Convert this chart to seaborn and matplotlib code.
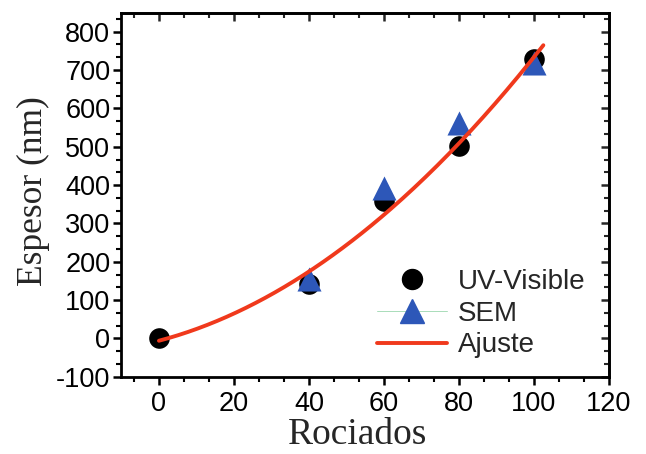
import numpy as np
import pandas as pd
import seaborn as sns
import matplotlib
matplotlib.use("Agg")
import matplotlib.pyplot as plt
from matplotlib.ticker import AutoMinorLocator
from matplotlib.lines import Line2D

# Measured film thickness versus number of spray passes
rociados_uv = [0, 40, 60, 80, 100]
espesor_uv = [0, 143, 358, 503, 730]
rociados_sem = [40, 60, 80, 100]
espesor_sem = [155, 393, 562, 718]

x_ticks = [0, 20, 40, 60, 80, 100, 120]
y_ticks = [-100, 0, 100, 200, 300, 400, 500, 600, 700, 800]

sns.set_theme(style="ticks")
plt.rcParams["font.family"] = ["Liberation Sans", "DejaVu Sans"]
plt.rcParams["axes.unicode_minus"] = False

df_uv = pd.DataFrame({"Rociados": rociados_uv, "Espesor": espesor_uv})
df_sem = pd.DataFrame({"Rociados": rociados_sem, "Espesor": espesor_sem})

# Second-order polynomial fit of the UV-Visible thickness series
coef = np.polyfit(np.array(rociados_uv, float), np.array(espesor_uv, float), 2)
x_fit = np.linspace(0, 102.5, 200)
df_fit = pd.DataFrame({"Rociados": x_fit, "Espesor": np.polyval(coef, x_fit)})

fig = plt.figure(figsize=(6.46, 4.54), dpi=100)
ax = fig.add_axes([0.188, 0.170, 0.7547, 0.8024])

blue = "#2D57B8"
red = "#F0391C"

sns.scatterplot(data=df_uv, x="Rociados", y="Espesor", ax=ax, marker="o",
                s=220, color="black", edgecolor="black", linewidth=0, zorder=3)
sns.scatterplot(data=df_sem, x="Rociados", y="Espesor", ax=ax, marker="^",
                s=300, color=blue, edgecolor=blue, linewidth=0, zorder=4)
sns.lineplot(data=df_fit, x="Rociados", y="Espesor", ax=ax, color=red,
             linewidth=2.8, zorder=5)

ax.set_xlim(-10, 120)
ax.set_ylim(-100, 850)
ax.set_xticks(x_ticks)
ax.set_yticks(y_ticks)
ax.xaxis.set_minor_locator(AutoMinorLocator(3))
ax.yaxis.set_minor_locator(AutoMinorLocator(3))

for s in ax.spines.values():
    s.set_linewidth(2.0)
    s.set_color("black")
    s.set_visible(True)

ax.tick_params(axis="both", which="major", length=6, width=1.8,
               labelsize=19.5, color="black", labelcolor="black", pad=2)
ax.tick_params(axis="x", which="major", pad=4)
ax.tick_params(axis="both", which="minor", length=3.5, width=1.5, color="black")
ax.tick_params(axis="x", which="both", direction="out", top=False)
ax.tick_params(axis="y", which="both", direction="out", right=False)

# Mirrored inward ticks on the top and right edges
ax_top = ax.secondary_xaxis("top")
ax_top.set_xticks(x_ticks)
ax_top.xaxis.set_minor_locator(AutoMinorLocator(3))
ax_top.tick_params(which="major", direction="in", length=6, width=1.8, labeltop=False)
ax_top.tick_params(which="minor", direction="in", length=3.5, width=1.5)
ax_top.spines["top"].set_linewidth(2.0)
ax_right = ax.secondary_yaxis("right")
ax_right.set_yticks(y_ticks)
ax_right.yaxis.set_minor_locator(AutoMinorLocator(3))
ax_right.tick_params(which="major", direction="in", length=6, width=1.8, labelright=False)
ax_right.tick_params(which="minor", direction="in", length=3.5, width=1.5)
ax_right.spines["right"].set_linewidth(2.0)

serif = ["Liberation Serif", "DejaVu Serif"]
ax.set_xlabel("Rociados", family=serif, fontsize=27)
ax.set_ylabel("Espesor (nm)", family=serif, fontsize=25.5)
ax.xaxis.set_label_coords(0.485, -0.113)
ax.yaxis.set_label_coords(-0.147, 0.51)

handles = [
    Line2D([], [], marker="o", color="black", linestyle="none", markersize=14.4),
    Line2D([], [], marker="^", color="#a9dcb9", linestyle="-", markersize=17,
           markerfacecolor=blue, markeredgecolor=blue, linewidth=0.7),
    Line2D([], [], color=red, linewidth=2.8),
]
leg = ax.legend(handles, ["UV-Visible", "SEM", "Ajuste"], loc="upper left",
                bbox_to_anchor=(0.502, 0.327), frameon=False, fontsize=20,
                handlelength=2.5, handletextpad=0.4, labelspacing=0.21,
                borderaxespad=0.0, borderpad=0.4)

fig.savefig("out.png", dpi=100)
